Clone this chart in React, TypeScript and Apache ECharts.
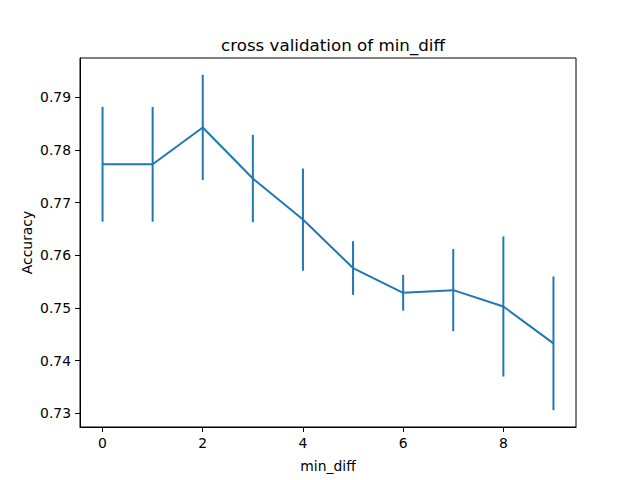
import React, { useEffect, useRef } from "react";
import * as echarts from "echarts";

const xValues = [0, 1, 2, 3, 4, 5, 6, 7, 8, 9];
const meanAccuracy = [0.7773, 0.7773, 0.7843, 0.7746, 0.7668, 0.7576, 0.7529, 0.7534, 0.7503, 0.7433];
const errAccuracy = [0.0109, 0.0109, 0.0100, 0.0083, 0.0097, 0.0051, 0.0034, 0.0078, 0.0133, 0.0127];
const xTickValues = [0, 2, 4, 6, 8];
const yTickValues = [0.73, 0.74, 0.75, 0.76, 0.77, 0.78, 0.79];

const COLOR = "#1f77b4";
const FONT = "DejaVu Sans";

export default function App() {
  const ref = useRef<HTMLDivElement>(null);
  useEffect(() => {
    if (!ref.current) return;
    const chart = echarts.init(ref.current, undefined, { renderer: "svg" });
    const lows = meanAccuracy.map((m, i) => m - errAccuracy[i]);
    const highs = meanAccuracy.map((m, i) => m + errAccuracy[i]);
    const yMinData = Math.min(...lows);
    const yMaxData = Math.max(...highs);
    const yPad = (yMaxData - yMinData) * 0.05;
    const xPad = (xValues[xValues.length - 1] - xValues[0]) * 0.05;
    chart.setOption({
      animation: false,
      backgroundColor: "#ffffff",
      title: {
        text: "cross validation of min_diff",
        left: 328,
        top: 31,
        textAlign: "center",
        textStyle: { fontFamily: FONT, fontSize: 16.7, fontWeight: "normal", color: "#000" },
      },
      grid: {
        left: 80,
        top: 58,
        width: 496,
        height: 369,
        show: true,
        borderColor: "#000",
        borderWidth: 1,
        backgroundColor: "transparent",
      },
      xAxis: {
        type: "value",
        min: xValues[0] - xPad,
        max: xValues[xValues.length - 1] + xPad,
        splitLine: { show: false },
        axisLine: { show: true, onZero: false, lineStyle: { color: "#000", width: 1 } },
        axisTick: { show: true, length: 5, lineStyle: { color: "#000", width: 1 }, customValues: xTickValues },
        axisLabel: {
          customValues: xTickValues,
          margin: 9,
          fontFamily: FONT,
          fontSize: 13.9,
          color: "#000",
          formatter: (v: number) => String(v),
        },
        name: "min_diff",
        nameLocation: "middle",
        nameGap: 32,
        nameMoveOverlap: false,
        nameTextStyle: { fontFamily: FONT, fontSize: 13.9, color: "#000" },
      },
      yAxis: {
        type: "value",
        min: yMinData - yPad,
        max: yMaxData + yPad,
        splitLine: { show: false },
        axisLine: { show: true, onZero: false, lineStyle: { color: "#000", width: 1 } },
        axisTick: { show: true, length: 5, lineStyle: { color: "#000", width: 1 }, customValues: yTickValues },
        axisLabel: {
          customValues: yTickValues,
          margin: 9,
          fontFamily: FONT,
          fontSize: 13.9,
          color: "#000",
          formatter: (v: number) => v.toFixed(2),
        },
        name: "Accuracy",
        nameLocation: "middle",
        nameGap: 46,
        nameRotate: 90,
        nameMoveOverlap: false,
        nameTextStyle: { fontFamily: FONT, fontSize: 13.9, color: "#000" },
      },
      series: [
        {
          type: "line",
          data: xValues.map((x, i) => [x, meanAccuracy[i]]),
          showSymbol: false,
          symbol: "none",
          lineStyle: { color: COLOR, width: 2 },
          z: 3,
        },
        {
          type: "custom",
          data: xValues.map((x, i) => [x, lows[i], highs[i]]),
          renderItem: (params: any, api: any) => {
            const x = api.value(0);
            const p1 = api.coord([x, api.value(1)]);
            const p2 = api.coord([x, api.value(2)]);
            return {
              type: "line",
              shape: { x1: p1[0], y1: p1[1], x2: p2[0], y2: p2[1] },
              style: { stroke: COLOR, lineWidth: 2 },
            };
          },
          z: 2,
        },
      ],
    });
    return () => chart.dispose();
  }, []);
  return (
    <div
      ref={ref}
      style={{ position: "fixed", left: 0, top: 0, width: 640, height: 480, background: "#fff" }}
    />
  );
}
